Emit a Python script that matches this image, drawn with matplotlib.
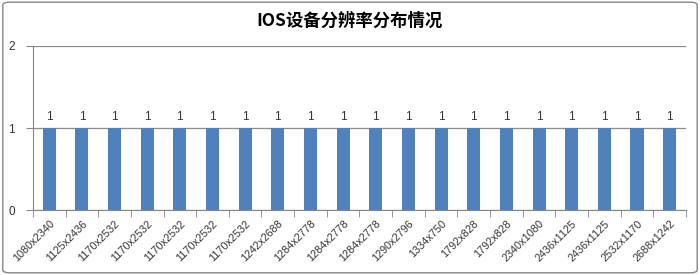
import matplotlib.pyplot as plt
import numpy as np
from matplotlib.patches import FancyBboxPatch

plt.rcParams['font.family'] = ['Liberation Sans', 'Noto Sans CJK SC', 'DejaVu Sans']

resolutions = ["1080x2340", "1125x2436", "1170x2532", "1170x2532", "1170x2532",
               "1170x2532", "1170x2532", "1242x2688", "1284x2778", "1284x2778",
               "1284x2778", "1290x2796", "1334x750", "1792x828", "1792x828",
               "2340x1080", "2436x1125", "2436x1125", "2532x1170", "2688x1242"]
counts = [1] * len(resolutions)

fig = plt.figure(figsize=(7, 2.75), dpi=100)
ax = fig.add_axes([0.047, 0.236, 0.933, 0.597])

x = np.arange(len(resolutions))
ax.bar(x, counts, width=0.4, color='#4F81BD', zorder=3)
for xi, c in zip(x, counts):
    ax.text(xi, c + 0.06, str(c), ha='center', va='bottom', fontsize=8.5, color='#333333')

ax.set_xlim(-0.5, len(resolutions) - 0.5)
ax.set_ylim(0, 2)
ax.set_yticks([0, 1, 2])
ax.set_yticklabels(['0', '1', '2'], fontsize=8.5, color='#333333')
ax.set_xticks(x)
ax.set_xticklabels(resolutions, rotation=45, ha='right', rotation_mode='anchor',
                   fontsize=7.8, color='#333333')
ax.tick_params(axis='x', length=0, pad=6)
ax.set_xticks(np.arange(-0.5, len(resolutions)), minor=True)
ax.tick_params(axis='x', which='minor', length=5, color='#868686', direction='out')
ax.tick_params(axis='y', length=5, color='#868686', pad=8)
ax.grid(axis='y', color='#8c8c8c', linewidth=0.9, zorder=0)

for side in ['top', 'right']:
    ax.spines[side].set_visible(False)
for side in ['left', 'bottom']:
    ax.spines[side].set_color('#868686')

fig.text(0.5, 0.925, "IOS设备分辨率分布情况", ha='center', va='center',
         fontsize=12.5, fontweight='bold', family=['Noto Sans CJK SC', 'DejaVu Sans'])

border = FancyBboxPatch((0.004, 0.008), 0.992, 0.984, boxstyle='round,pad=0,rounding_size=0.01',
                        transform=fig.transFigure, fill=False, edgecolor='#868686', linewidth=1)
fig.patches.append(border)

fig.savefig('out.png', dpi=100)
